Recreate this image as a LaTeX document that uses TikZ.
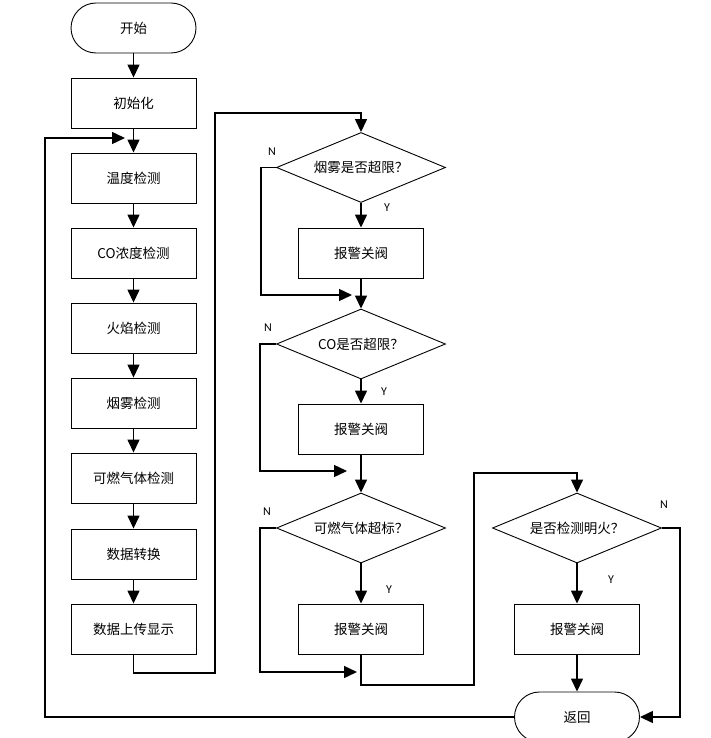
\documentclass[tikz,border=0pt]{standalone}
\usepackage{fontspec}
\setmainfont{Noto Sans CJK SC}
\newfontfamily\latinf{Carlito}
\usetikzlibrary{arrows.meta,shapes.geometric}
\begin{document}
\begin{tikzpicture}[x=1pt,y=-1pt,
  proc/.style={draw,line width=0.9pt,minimum width=125pt,minimum height=50pt,inner sep=0pt,font=\fontsize{13.5}{15}\selectfont},
  term/.style={proc,rounded corners=25pt},
  dec/.style={draw,diamond,aspect=2.4,line width=0.9pt,minimum width=169pt,minimum height=70pt,inner sep=0pt,font=\fontsize{13.5}{15}\selectfont},
  conn/.style={line width=1.4pt},
  arr/.style={conn,-{Triangle[length=13pt,width=12pt]}},
  lbl/.style={font=\latinf\fontsize{12}{14}\selectfont,inner sep=0pt}]
\useasboundingbox (0,0) rectangle (711,738);
% left column
\node[term] (start) at (133.5,28) {开始};
\node[proc] (init) at (133.5,103) {初始化};
\node[proc] (temp) at (133.5,178) {温度检测};
\node[proc] (co) at (133.5,253) {CO浓度检测};
\node[proc] (fire) at (133.5,328) {火焰检测};
\node[proc] (smoke) at (133.5,403) {烟雾检测};
\node[proc] (gas) at (133.5,478) {可燃气体检测};
\node[proc] (conv) at (133.5,554) {数据转换};
\node[proc] (up) at (133.5,629) {数据上传显示};
% middle column
\node[dec] (d1) at (361,167.5) {烟雾是否超限？};
\node[proc] (a1) at (361,253) {报警关阀};
\node[dec] (d2) at (361,344) {CO是否超限？};
\node[proc] (a2) at (361,429) {报警关阀};
\node[dec] (d3) at (361,528) {可燃气体超标？};
\node[proc] (a3) at (361,629) {报警关阀};
% right column
\node[dec] (d4) at (577,528) {是否检测明火？};
\node[proc] (a4) at (577,629) {报警关阀};
\node[term] (ret) at (577,717) {返回};
% labels
\node[lbl] (n1) at (272,152) {N};
\node[lbl] (y1) at (387,208) {Y};
\node[lbl] (n2) at (268,328) {N};
\node[lbl] (y2) at (384,392) {Y};
\node[lbl] (n3) at (267,512) {N};
\node[lbl] (y3) at (389,590) {Y};
\node[lbl] (n4) at (664,505) {N};
\node[lbl] (y4) at (611,580) {Y};
% coordinates
\coordinate (lb) at (45,717);
\coordinate (lt) at (45,138);
\coordinate (loopin) at (125,138);
\coordinate (u1) at (133.5,673);
\coordinate (u2) at (215,673);
\coordinate (u3) at (215,113);
\coordinate (u4) at (361,113);
\coordinate (n1a) at (261,167.5);
\coordinate (n1b) at (261,295);
\coordinate (n1c) at (352,295);
\coordinate (n2a) at (260,344);
\coordinate (n2b) at (260,471);
\coordinate (n2c) at (347,471);
\coordinate (n3a) at (260,528);
\coordinate (n3b) at (260,672);
\coordinate (n3c) at (357,672);
\coordinate (r1) at (361,685);
\coordinate (r2) at (474,685);
\coordinate (r3) at (474,473);
\coordinate (r4) at (577,473);
\coordinate (n4a) at (680,528);
\coordinate (n4b) at (680,717);
% left column flow
\draw[arr] (start) -- (init);
\draw[arr] (init) -- (temp);
\draw[arr] (temp) -- (co);
\draw[arr] (co) -- (fire);
\draw[arr] (fire) -- (smoke);
\draw[arr] (smoke) -- (gas);
\draw[arr] (gas) -- (conv);
\draw[arr] (conv) -- (up);
\draw[arr] (ret.west) -- (lb) -- (lt) -- (loopin);
\draw[arr] (up.south) -- (u1) -- (u2) -- (u3) -- (u4) -- (d1.north);
% middle column flow
\draw[arr] (d1.south) -- (a1.north);
\draw[arr] (d1.west) -- (n1a) -- (n1b) -- (n1c);
\draw[arr] (a1.south) -- (d2.north);
\draw[arr] (d2.west) -- (n2a) -- (n2b) -- (n2c);
\draw[arr] (d2.south) -- (a2.north);
\draw[arr] (a2.south) -- (d3.north);
\draw[arr] (d3.west) -- (n3a) -- (n3b) -- (n3c);
\draw[arr] (d3.south) -- (a3.north);
\draw[arr] (a3.south) -- (r1) -- (r2) -- (r3) -- (r4) -- (d4.north);
% right column flow
\draw[arr] (d4.south) -- (a4.north);
\draw[arr] (a4.south) -- (ret.north);
\draw[arr] (d4.east) -- (n4a) -- (n4b) -- (ret.east);
\end{tikzpicture}
\end{document}
